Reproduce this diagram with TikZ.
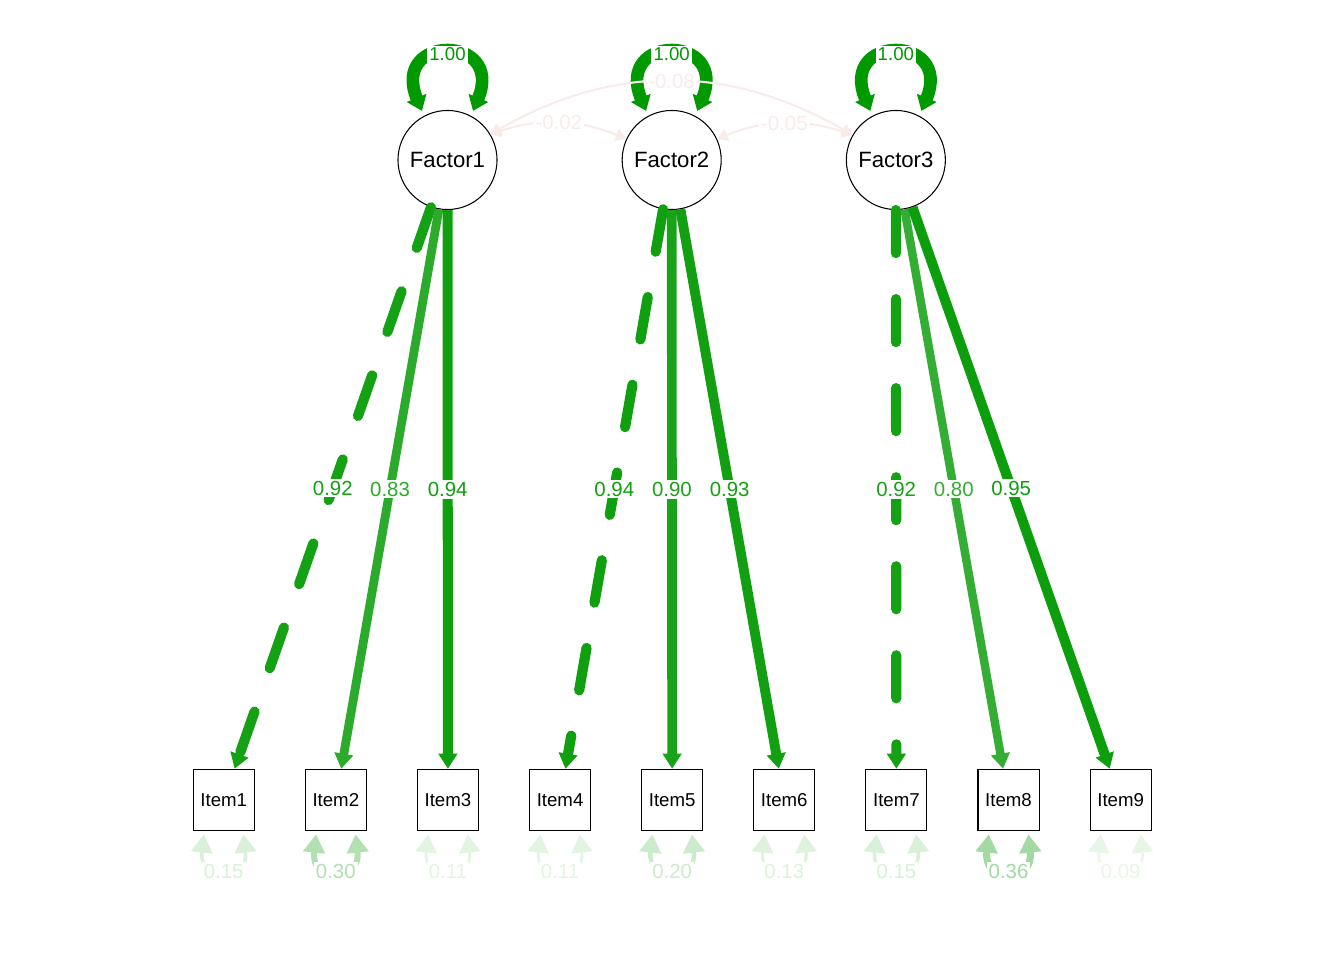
\documentclass[tikz,border=0pt]{standalone}
\usepackage{fontspec}
\setmainfont{Liberation Sans}
\usetikzlibrary{positioning,arrows.meta}
\definecolor{posgreen}{HTML}{009900}
\definecolor{negred}{HTML}{BF0000}

\begin{document}
\begin{tikzpicture}[x=0.01cm, y=0.01cm,
latent/.style={circle, draw=black, line width=0.3pt, fill=white, minimum size=0.99cm, inner sep=0pt, font=\fontsize{6.3}{7}\selectfont},
manifest/.style={rectangle, draw=black, line width=0.3pt, fill=white, minimum size=0.61cm, inner sep=0pt, font=\fontsize{5.3}{6}\selectfont},
load/.style={-{Triangle[length=4.3pt,width=5.2pt]}},
fixed/.style={dash pattern=on 0.43cm off 0.46cm, line cap=round},
lab/.style={fill=white, inner sep=0.6pt, font=\fontsize{5.8}{6.5}\selectfont},
var/.style={{Triangle[length=4pt,width=5.8pt]}-{Triangle[length=4pt,width=5.8pt]}, line width=3.6pt, posgreen, shorten <=1.5pt, shorten >=1.5pt},
resid/.style={{Triangle[length=5.2pt,width=6pt]}-{Triangle[length=5.2pt,width=6pt]}, shorten <=1pt, shorten >=1pt},
cov/.style={{Triangle[length=3pt,width=3.6pt]}-{Triangle[length=3pt,width=3.6pt]}, line width=0.6pt, negred!8!white}
]
\useasboundingbox (0,0) rectangle (1344,960);

\node[latent] (F1) at (447.5,800) {Factor1};
\node[latent, right=1.24cm of F1] (F2) {Factor2};
\node[latent, right=1.24cm of F2] (F3) {Factor3};

\node[manifest] (I1) at (223.7,160.2) {Item1};
\node[manifest, right=0.5cm of I1] (I2) {Item2};
\node[manifest, right=0.5cm of I2] (I3) {Item3};
\node[manifest, right=0.5cm of I3] (I4) {Item4};
\node[manifest, right=0.5cm of I4] (I5) {Item5};
\node[manifest, right=0.5cm of I5] (I6) {Item6};
\node[manifest, right=0.5cm of I6] (I7) {Item7};
\node[manifest, right=0.5cm of I7] (I8) {Item8};
\node[manifest, right=0.5cm of I8] (I9) {Item9};

\draw[load, fixed, line width=2.9pt, posgreen!92!white] (F1) -- node[lab] {0.92} (I1);
\draw[load, line width=2.5pt, posgreen!83!white] (F1) -- node[lab] {0.83} (I2);
\draw[load, line width=2.85pt, posgreen!94!white] (F1) -- node[lab] {0.94} (I3);
\draw[load, fixed, line width=2.9pt, posgreen!94!white] (F2) -- node[lab] {0.94} (I4);
\draw[load, line width=2.75pt, posgreen!90!white] (F2) -- node[lab] {0.90} (I5);
\draw[load, line width=2.8pt, posgreen!93!white] (F2) -- node[lab] {0.93} (I6);
\draw[load, fixed, line width=2.9pt, posgreen!92!white] (F3) -- node[lab] {0.92} (I7);
\draw[load, line width=2.4pt, posgreen!80!white] (F3) -- node[lab] {0.80} (I8);
\draw[load, line width=2.85pt, posgreen!95!white] (F3) -- node[lab] {0.95} (I9);

\draw[var] (F1.118) .. controls +(-34,82) and +(34,82) .. (F1.62) node[lab, pos=0.5, font=\fontsize{5.3}{6}\selectfont] {1.00};
\draw[var] (F2.118) .. controls +(-34,82) and +(34,82) .. (F2.62) node[lab, pos=0.5, font=\fontsize{5.3}{6}\selectfont] {1.00};
\draw[var] (F3.118) .. controls +(-34,82) and +(34,82) .. (F3.62) node[lab, pos=0.5, font=\fontsize{5.3}{6}\selectfont] {1.00};

\draw[cov] (F1.31) to[bend left=30] node[lab] {-0.08} (F3.150);
\draw[cov] (F1.31) to[bend left=20] node[lab] {-0.02} (F2.155);
\draw[cov] (F2.25) to[bend left=20] node[lab] {-0.05} (F3.150);

\draw[resid, line width=1pt, posgreen!15!white] (I1.238) .. controls +(-6,-54) and +(6,-54) .. (I1.302) node[lab, pos=0.5] {0.15};
\draw[resid, line width=1.7pt, posgreen!30!white] (I2.238) .. controls +(-6,-54) and +(6,-54) .. (I2.302) node[lab, pos=0.5] {0.30};
\draw[resid, line width=0.8pt, posgreen!11!white] (I3.238) .. controls +(-6,-54) and +(6,-54) .. (I3.302) node[lab, pos=0.5] {0.11};
\draw[resid, line width=0.8pt, posgreen!11!white] (I4.238) .. controls +(-6,-54) and +(6,-54) .. (I4.302) node[lab, pos=0.5] {0.11};
\draw[resid, line width=1.25pt, posgreen!20!white] (I5.238) .. controls +(-6,-54) and +(6,-54) .. (I5.302) node[lab, pos=0.5] {0.20};
\draw[resid, line width=0.9pt, posgreen!13!white] (I6.238) .. controls +(-6,-54) and +(6,-54) .. (I6.302) node[lab, pos=0.5] {0.13};
\draw[resid, line width=1pt, posgreen!15!white] (I7.238) .. controls +(-6,-54) and +(6,-54) .. (I7.302) node[lab, pos=0.5] {0.15};
\draw[resid, line width=2pt, posgreen!36!white] (I8.238) .. controls +(-6,-54) and +(6,-54) .. (I8.302) node[lab, pos=0.5] {0.36};
\draw[resid, line width=0.7pt, posgreen!9!white] (I9.238) .. controls +(-6,-54) and +(6,-54) .. (I9.302) node[lab, pos=0.5] {0.09};
\end{tikzpicture}
\end{document}
